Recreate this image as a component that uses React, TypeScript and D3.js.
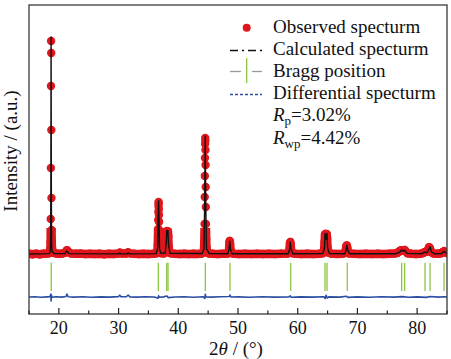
import * as d3 from 'd3';

// 2θ (deg) vs intensity (a.u., background = 0)
const observed: [number, number][] = [
  [15.0, 3], [15.6, -2], [16.2, 4], [16.8, -3], [17.4, 2], [18.0, 5], [18.3, 8], [18.5, 22],
  [18.58, 55], [18.62, 120], [18.64, 350], [18.66, 860], [18.68, 1680], [18.7, 2130], [18.72, 2010],
  [18.74, 1240], [18.76, 560], [18.78, 240], [18.82, 90], [18.9, 35], [19.1, 12], [19.5, 6],
  [20.0, 3], [20.6, 5], [21.1, 14], [21.35, 38], [21.6, 20], [22.0, 6], [22.8, 2], [23.6, 4],
  [24.4, -1], [25.2, 3], [26.0, 0], [26.8, 3], [27.6, -2], [28.4, 2], [29.2, 0], [29.9, 4],
  [30.2, 14], [30.5, 5], [31.2, 4], [31.6, 16], [31.9, 6], [32.6, 2], [33.4, -1], [34.2, 3],
  [35.0, 0], [35.8, 2], [36.3, 6], [36.5, 20], [36.56, 90], [36.6, 170], [36.62, 250], [36.64, 340],
  [36.66, 420], [36.68, 480], [36.7, 520], [36.72, 505], [36.74, 450], [36.76, 390], [36.78, 320],
  [36.8, 240], [36.82, 170], [36.88, 60], [36.98, 20], [37.2, 8], [37.6, 6],
  [37.85, 15], [37.95, 60], [38.02, 170], [38.08, 230], [38.14, 215], [38.2, 210], [38.26, 228],
  [38.32, 180], [38.38, 80], [38.48, 25], [38.7, 8], [39.4, 3], [40.2, 0], [41.0, 3], [41.8, -1],
  [42.6, 2], [43.4, 1], [43.9, 5], [44.2, 12], [44.3, 40], [44.36, 130], [44.4, 300], [44.43, 570],
  [44.45, 780], [44.47, 960], [44.49, 1100], [44.51, 1160], [44.53, 1130], [44.55, 1040],
  [44.57, 890], [44.59, 670], [44.61, 470], [44.63, 300], [44.67, 150], [44.73, 60], [44.85, 20],
  [45.1, 6], [45.8, 2], [46.6, -1], [47.4, 3], [48.1, 2], [48.4, 10], [48.5, 45], [48.57, 110],
  [48.62, 130], [48.68, 100], [48.75, 40], [48.88, 10], [49.3, 3], [50.2, 0], [51.2, 3],
  [52.2, -1], [53.2, 2], [54.2, 0], [55.2, 3], [56.2, -1], [57.2, 2], [58.2, 4], [58.5, 10],
  [58.62, 45], [58.7, 105], [58.76, 120], [58.82, 95], [58.9, 35], [59.05, 10], [59.6, 2],
  [60.6, 0], [61.6, 3], [62.6, -1], [63.6, 3], [64.2, 8], [64.4, 30], [64.5, 120], [64.57, 195],
  [64.63, 200], [64.7, 175], [64.78, 190], [64.86, 200], [64.93, 150], [65.0, 60], [65.12, 15],
  [65.6, 4], [66.6, 1], [67.5, 3], [67.95, 10], [68.08, 45], [68.16, 80], [68.22, 85], [68.3, 60],
  [68.4, 20], [68.6, 6], [69.4, 2], [70.4, -1], [71.4, 2], [72.4, 0], [73.4, 3], [74.4, -1],
  [75.4, 2], [76.2, 4], [76.7, 12], [77.0, 25], [77.3, 38], [77.6, 35], [77.9, 40], [78.1, 25],
  [78.4, 8], [79.0, 2], [79.8, 0], [80.6, 3], [81.0, 10], [81.3, 20], [81.6, 22], [81.85, 45],
  [82.0, 68], [82.15, 55], [82.35, 20], [82.7, 6], [83.4, 3], [84.0, 8], [84.3, 20], [84.5, 28],
  [84.7, 18], [85.0, 10],
];

const calculated: [number, number][] = [
  [15, 0], [18.4, 4], [18.55, 25], [18.62, 110], [18.66, 700], [18.7, 2170], [18.74, 700],
  [18.78, 110], [18.86, 25], [19.2, 5], [21.0, 4], [21.35, 30], [21.7, 4], [30.0, 1], [30.2, 8],
  [30.4, 1], [31.4, 1], [31.6, 10], [31.8, 1], [36.3, 4], [36.55, 60], [36.64, 400], [36.7, 530],
  [36.76, 380], [36.86, 50], [37.1, 8], [37.8, 10], [37.98, 110], [38.08, 235], [38.17, 190],
  [38.26, 235], [38.36, 100], [38.6, 8], [44.0, 5], [44.3, 50], [44.42, 500], [44.51, 1180],
  [44.6, 500], [44.72, 50], [45.2, 5], [48.3, 3], [48.52, 50], [48.62, 128], [48.72, 50],
  [49.0, 3], [58.4, 3], [58.66, 50], [58.76, 118], [58.86, 50], [59.2, 3], [64.2, 4], [64.48, 60],
  [64.58, 205], [64.72, 150], [64.9, 205], [65.0, 60], [65.3, 4], [67.9, 3], [68.12, 40],
  [68.24, 88], [68.36, 40], [68.7, 3], [76.5, 3], [77.1, 20], [77.4, 40], [77.65, 28], [77.9, 38],
  [78.3, 6], [80.8, 3], [81.3, 18], [81.6, 12], [82.0, 50], [82.16, 72], [82.4, 20], [82.9, 3],
  [84.1, 5], [84.5, 26], [84.8, 12], [85, 8],
];

const difference: [number, number][] = [
  [15, -430], [16, -428], [17, -432], [18, -429], [18.5, -427], [18.66, -400], [18.7, -470],
  [18.74, -410], [18.9, -432], [19.5, -428], [20.5, -431], [21.2, -425], [21.35, -400],
  [21.55, -428], [22.5, -431], [24, -428], [25.5, -432], [27, -429], [28.5, -431], [30.0, -426],
  [30.2, -412], [30.4, -428], [31.3, -428], [31.6, -410], [31.9, -429], [33, -431], [34.5, -428],
  [36.0, -430], [36.6, -442], [36.7, -418], [36.85, -433], [37.5, -429], [38.1, -420],
  [38.3, -436], [39.5, -430], [41, -428], [42.5, -432], [44.2, -428], [44.45, -445], [44.53, -402],
  [44.62, -430], [45.5, -431], [47, -428], [48.55, -425], [48.65, -410], [48.8, -430], [50, -429],
  [52, -432], [54, -428], [56, -431], [58.5, -429], [58.75, -418], [58.9, -433], [60.5, -429],
  [62.5, -431], [64.4, -428], [64.6, -445], [64.75, -412], [64.95, -440], [65.2, -429],
  [67, -431], [68.2, -422], [68.4, -434], [70, -429], [72, -432], [74, -428], [76, -431],
  [77.5, -426], [78.5, -433], [80, -429], [81.5, -434], [82.2, -425], [83.5, -431], [84.5, -427],
  [85, -430],
];

const braggPositions = [18.72, 36.66, 38.06, 38.28, 44.53, 48.66, 58.83, 64.57, 64.91, 68.3, 77.4, 77.9, 81.32, 82.16, 84.5];

const majorTicks = [20, 30, 40, 50, 60, 70, 80];
const minorTicks = [15, 25, 35, 45, 55, 65, 75, 85];

const legendLabels = ['Observed specturm', 'Calculated specturm', 'Bragg position', 'Differential specturm'];
const rp = '3.02%';
const rwp = '4.42%';

const RED = '#e1161d';
const GREEN = '#8cc63f';
const BLUE = '#2b4ea2';
const FONT = 'Liberation Serif, Times New Roman, serif';

export default function App() {
  const width = 451;
  const height = 359;
  const margin = { top: 5, right: 4, bottom: 45, left: 29 };
  const plotW = width - margin.left - margin.right;
  const plotH = height - margin.top - margin.bottom;

  const x = d3.scaleLinear().domain([15, 85]).range([margin.left, width - margin.right]);
  const y = d3.scaleLinear().domain([-600, 2490]).range([height - margin.bottom, margin.top]);

  const line = d3.line<[number, number]>()
    .x(d => x(d[0]))
    .y(d => y(d[1]));

  const braggTop = y(-88);
  const braggBottom = y(-370);
  // dense band of overlapping points only where the points are close together
  const bandTop = y(260);

  const lx = 230;
  const lTextX = 273;
  const rows = [32.5, 54.5, 76.5, 99];

  return (
    <svg width={width} height={height} style={{ position: 'absolute', left: 0, top: 0 }}>
      <defs>
        <clipPath id="plot">
          <rect x={margin.left} y={margin.top} width={plotW} height={plotH} />
        </clipPath>
        <clipPath id="band">
          <rect x={margin.left} y={bandTop} width={plotW} height={height - margin.bottom - bandTop} />
        </clipPath>
      </defs>

      <g clipPath="url(#plot)">
        <g clipPath="url(#band)">
          <path d={line(observed) ?? ''} fill="none" stroke={RED} strokeWidth={8.5} strokeLinejoin="round" strokeLinecap="round" />
        </g>
        {observed.map((d, i) => (
          <circle key={i} cx={x(d[0])} cy={y(d[1])} r={4.2} fill={RED} />
        ))}
        <path d={line(calculated) ?? ''} fill="none" stroke="#111" strokeWidth={1.4} strokeLinejoin="round" />
        {braggPositions.map((p, i) => (
          <line key={i} x1={x(p)} x2={x(p)} y1={braggTop} y2={braggBottom} stroke={GREEN} strokeWidth={1.3} />
        ))}
        <path d={line(difference) ?? ''} fill="none" stroke={BLUE} strokeWidth={1.6} strokeLinejoin="round" />
      </g>

      <rect x={margin.left} y={margin.top} width={plotW} height={plotH}
        fill="none" stroke="#3a3a3a" strokeWidth={1.3} />

      {majorTicks.map(t => (
        <g key={t}>
          <line x1={x(t)} x2={x(t)} y1={height - margin.bottom} y2={height - margin.bottom - 6} stroke="#222" strokeWidth={1.2} />
          <text x={x(t)} y={334} textAnchor="middle" fontSize={18} fontFamily={FONT} fill="#111">{t}</text>
        </g>
      ))}
      {minorTicks.map(t => (
        <line key={t} x1={x(t)} x2={x(t)} y1={height - margin.bottom} y2={height - margin.bottom - 3.5} stroke="#222" strokeWidth={1.2} />
      ))}

      <text x={236} y={355} textAnchor="middle" fontSize={19} fontFamily={FONT} fill="#111">
        2<tspan fontStyle="italic">θ</tspan> / (°)
      </text>
      <text transform="translate(17,151) rotate(-90)" textAnchor="middle" fontSize={19} fontFamily={FONT} fill="#111">Intensity / (a.u.)</text>

      <circle cx={246.7} cy={27.7} r={4} fill={RED} />
      <line x1={lx} x2={262} y1={50.5} y2={50.5} stroke="#111" strokeWidth={1.3} strokeDasharray="8 4 2 4" />
      <line x1={lx} x2={241} y1={71.5} y2={71.5} stroke="#999" strokeWidth={1.3} />
      <line x1={252} x2={262} y1={71.5} y2={71.5} stroke="#999" strokeWidth={1.3} />
      <line x1={246.7} x2={246.7} y1={58} y2={83} stroke={GREEN} strokeWidth={1.3} />
      <line x1={lx} x2={262} y1={94.5} y2={94.5} stroke={BLUE} strokeWidth={1.3} strokeDasharray="3 2" />
      {legendLabels.map((l, i) => (
        <text key={l} x={lTextX} y={rows[i]} fontSize={19} fontFamily={FONT} fill="#111">{l}</text>
      ))}
      <text x={lTextX} y={121} fontSize={19} fontFamily={FONT} fill="#111">
        <tspan fontStyle="italic">R</tspan><tspan fontSize={13} dy={4}>p</tspan><tspan dy={-4}>={rp}</tspan>
      </text>
      <text x={lTextX} y={143.5} fontSize={19} fontFamily={FONT} fill="#111">
        <tspan fontStyle="italic">R</tspan><tspan fontSize={13} dy={4}>wp</tspan><tspan dy={-4}>={rwp}</tspan>
      </text>
    </svg>
  );
}
